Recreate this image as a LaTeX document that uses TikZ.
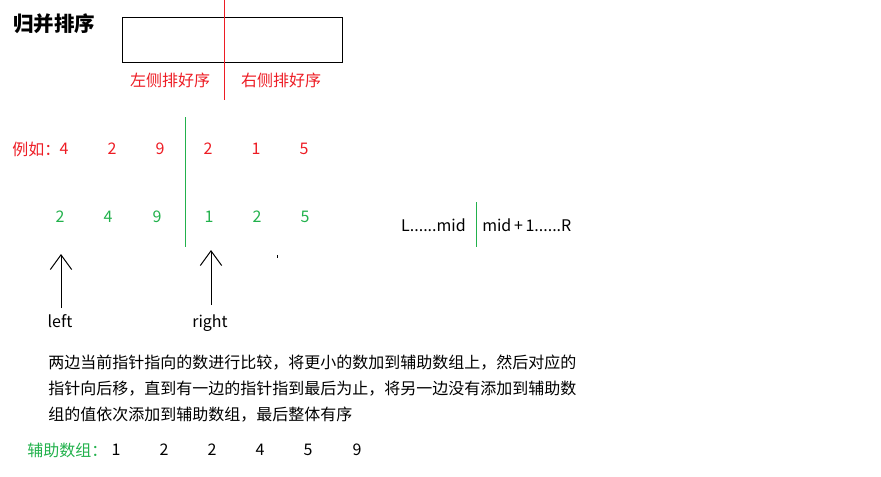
\documentclass[tikz,border=0pt]{standalone}
\usepackage{fontspec}
\setmainfont{Noto Sans CJK SC}
\usetikzlibrary{arrows.meta}
\definecolor{paintred}{RGB}{237,28,36}
\definecolor{paintgreen}{RGB}{34,177,76}

\begin{document}
\begin{tikzpicture}[x=.75pt,y=-.75pt,>={Straight Barb[length=11pt,width=16pt]},
  font=\fontsize{12}{14}\selectfont,inner sep=0pt]
 \useasboundingbox (0,0) rectangle (881,476);
 \node[anchor=west,font=\fontsize{15.4}{16}\bfseries\selectfont] (title) at (13,24) {归并排序};
 \draw[line width=.75pt] (122,17) rectangle (342,62);
 \draw[paintred,line width=.75pt] (224,0)--(224,100);
 \node[paintred] (lsorted) at (170,80) {左侧排好序};
 \node[paintred] (rsorted) at (281,80) {右侧排好序};
 \node[paintred,anchor=west] (eg) at (12,149) {例如：};
 \foreach \x/\v [count=\i] in {64/4,112/2,160/9,208/2,256/1,304/5}
  \node[paintred] (raw\i) at (\x,149) {\v};
 \foreach \x/\v [count=\i] in {60/2,108/4,157/9,209/1,257/2,305/5}
  \node[paintgreen] (half\i) at (\x,217) {\v};
 \draw[paintgreen,line width=.7pt] (185,117)--(185,247);
 \fill (276.5,255) rectangle (278,258);
 \node[anchor=east] (lo) at (466,225) {L......mid};
 \draw[paintgreen,line width=.7pt] (476,202)--(476,247);
 \node[anchor=west] (hi) at (482,225) {mid\,+\,1......R};
 \coordinate (ltail) at (61,308); \coordinate (lhead) at (61,254);
 \coordinate (rtail) at (211,305); \coordinate (rhead) at (211,250);
 \draw[->,line width=.75pt] (ltail)--(lhead);
 \draw[->,line width=.75pt] (rtail)--(rhead);
 \node[anchor=base] (leftlbl) at (60,327) {left};
 \node[anchor=base] (rightlbl) at (210,327) {right};
 \node[anchor=north west,align=left,font=\fontsize{12}{19.5}\selectfont] (note) at (48,355)
  {两边当前指针指向的数进行比较，将更小的数加到辅助数组上，然后对应的\\
   指针向后移，直到有一边的指针指到最后为止，将另一边没有添加到辅助数\\
   组的值依次添加到辅助数组，最后整体有序};
 \node[paintgreen,anchor=west] (aux) at (27,450) {辅助数组：};
 \foreach \x/\v [count=\i] in {116/1,164/2,212/2,260/4,308/5,357/9}
  \node (res\i) at (\x,450) {\v};
\end{tikzpicture}
\end{document}
